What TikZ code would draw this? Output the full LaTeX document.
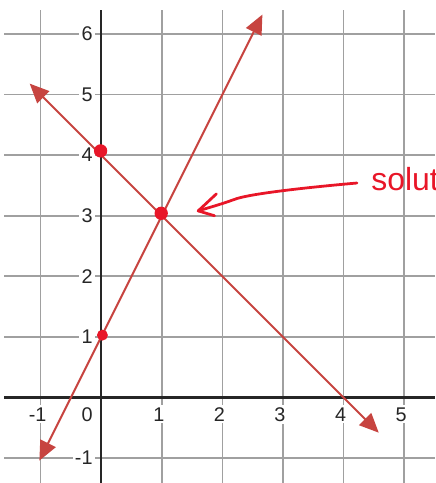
\documentclass[tikz,border=0pt]{standalone}
\usepackage{fontspec}
\setmainfont{Liberation Sans}
\usetikzlibrary{arrows.meta}
\definecolor{lineRed}{RGB}{199,68,64}
\definecolor{inkRed}{RGB}{232,22,40}
\definecolor{gridGray}{RGB}{160,160,160}

\begin{document}
\begin{tikzpicture}[
    gridline/.style={gridGray, line width=0.8pt},
    axisline/.style={black!85, line width=1.2pt},
    graphline/.style={lineRed, line width=0.9pt, {Triangle[length=3.2mm,width=2.8mm]}-{Triangle[length=3.2mm,width=2.8mm]}},
    ticklab/.style={fill=white, inner sep=1pt, font=\fontsize{9.3}{10}\selectfont, text=black!85},
    inkdot/.style={circle, fill=inkRed, inner sep=0pt, minimum size=2.2mm},
    ink/.style={inkRed, line width=1.3pt, line cap=round, line join=round}
]
    \useasboundingbox (-1.67,-1.41) rectangle (5.51,6.56);
    \clip (-1.67,-1.41) rectangle (5.51,6.56);

    % grid
    \foreach \x in {-1,...,5} {
        \draw[gridline] (\x,-1.41) -- (\x,6.4);
    }
    \foreach \y in {-1,...,6} {
        \draw[gridline] (-1.6,\y) -- (5.51,\y);
    }

    % axes
    \draw[axisline] (0,-1.41) -- (0,6.4);
    \draw[axisline] (-1.6,0) -- (5.51,0);

    % tick labels
    \foreach \x/\lab in {-1/-1, 1/1, 2/2, 3/3, 4/4, 5/5} {
        \node[ticklab, anchor=north] (x\x) at (\x-0.05,-0.12) {\lab};
    }
    \node[ticklab, anchor=north east] (x0) at (-0.1,-0.12) {0};
    \foreach \y/\lab in {-1/-1, 1/1, 2/2, 3/3, 4/4, 5/5, 6/6} {
        \node[ticklab, anchor=east] (y\y) at (-0.1,\y) {\lab};
    }

    % the two lines
    \coordinate (riseLo) at (-1.02,-1.04);
    \coordinate (riseHi) at (2.66,6.32);
    \coordinate (fallHi) at (-1.18,5.18);
    \coordinate (fallLo) at (4.58,-0.58);
    \draw[graphline] (riseLo) -- (riseHi);
    \draw[graphline] (fallHi) -- (fallLo);

    % hand marks
    \node[inkdot] (dotA) at (-0.01,4.07) {};
    \node[inkdot] (dotB) at (0.99,3.04) {};
    \node[inkdot, minimum size=1.8mm] (dotC) at (0.02,1.03) {};

    \node[inkRed, anchor=base west, inner sep=0pt, font=\fontsize{15}{15}\selectfont] (solnote) at (4.45,3.42) {solut};
    \coordinate (inkTip) at (1.6,3.08);
    \draw[ink] (4.22,3.54) .. controls (3.2,3.45) and (2.4,3.35) .. (2.2,3.27)
        .. controls (2.0,3.2) .. (inkTip);
    \draw[ink] (1.9,3.36) -- (inkTip) -- (1.87,3.0);
\end{tikzpicture}
\end{document}
